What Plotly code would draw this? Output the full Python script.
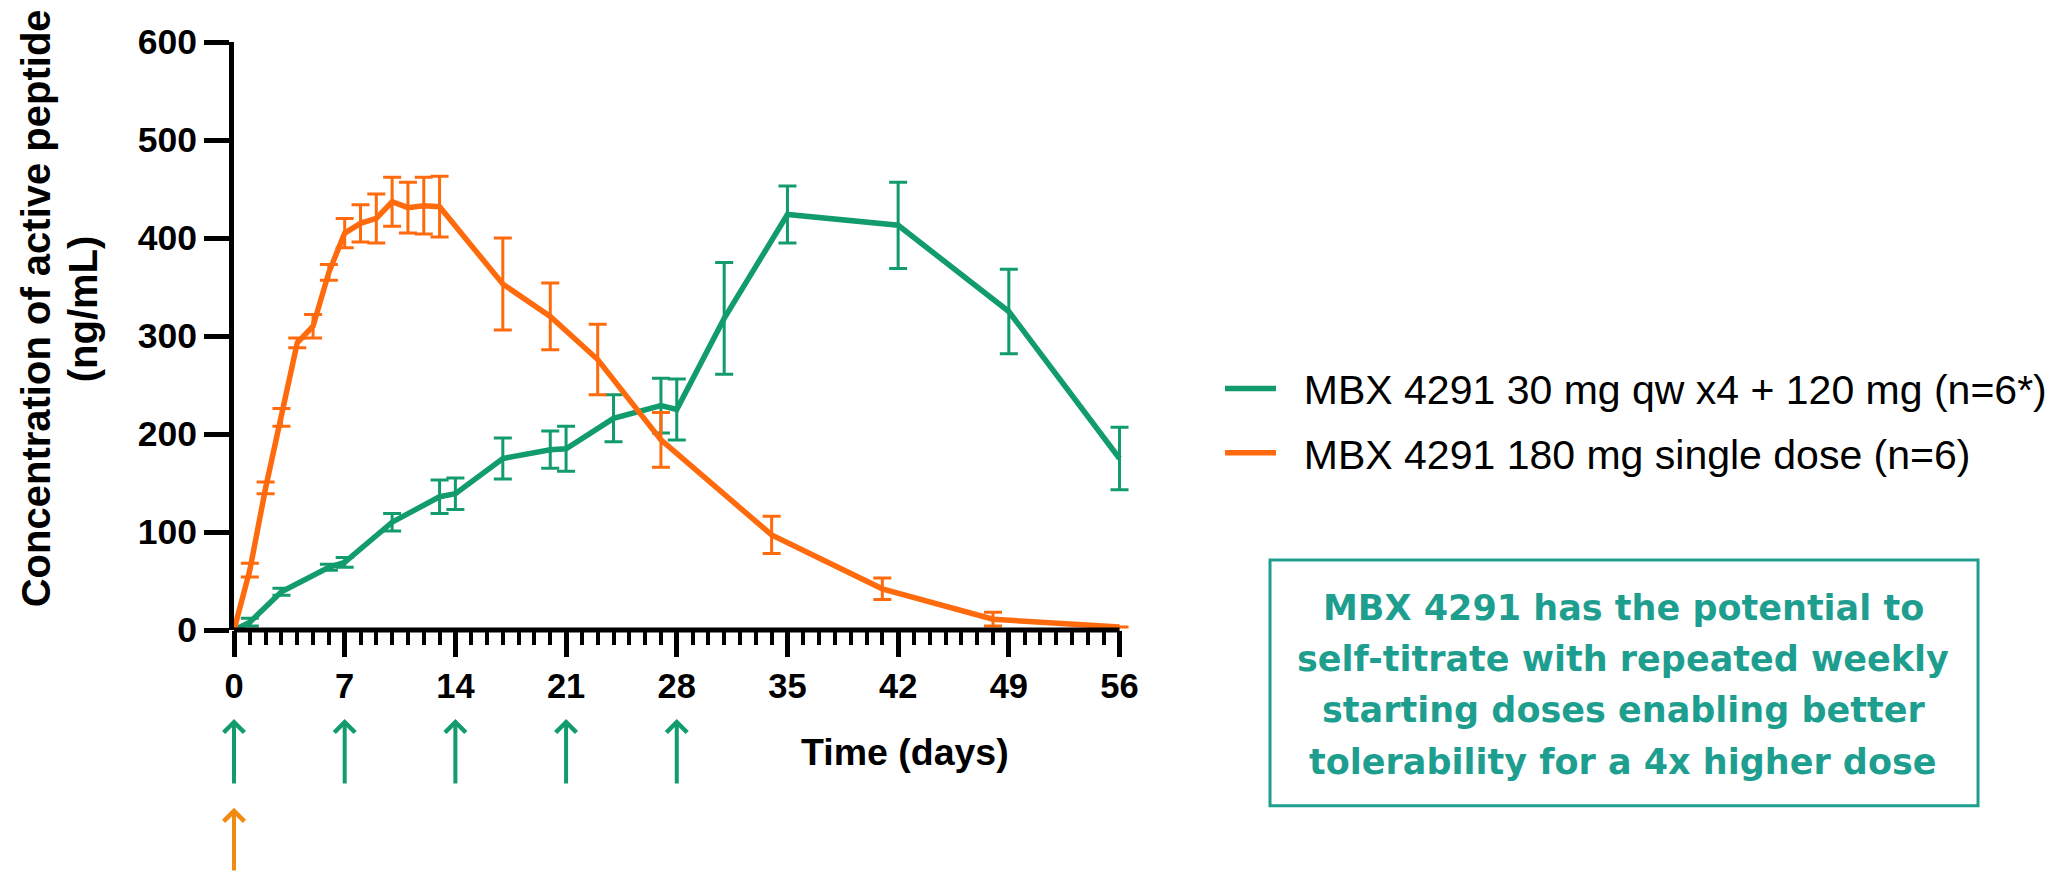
import plotly.graph_objects as go

# ---------------- data ----------------
green_name = "MBX 4291 30 mg qw x4 + 120 mg (n=6*)"
green_days = [0, 1, 3, 6, 7, 10, 13, 14, 17, 20, 21, 24, 27, 28, 31, 35, 42, 49, 56]
green_mean = [0, 8, 39, 64, 69, 110, 136, 139, 175, 184, 185, 216, 229, 225, 318, 424, 413, 325, 175]
green_err = [0, 4, 3.5, 3, 5, 9, 17, 16, 21, 19, 23, 24, 28, 31, 57, 29, 44, 43, 32]

orange_name = "MBX 4291 180 mg single dose (n=6)"
orange_days = [0, 1, 2, 3, 4, 5, 6, 7, 8, 9, 10, 11, 12, 13, 17, 20, 23, 27, 34, 41, 48, 56]
orange_mean = [0, 61, 145, 217, 293, 310, 365, 405, 415, 420, 437, 431, 433, 432, 353, 320, 276, 194, 97, 42, 11, 3]
orange_err = [0, 7, 6, 9, 5, 12, 8, 15, 19, 25, 25, 26, 29, 31, 47, 34, 36, 28, 19, 11, 7, 0]

x_ticks = [0, 7, 14, 21, 28, 35, 42, 49, 56]
y_ticks = [0, 100, 200, 300, 400, 500, 600]
green_dose_days = [0, 7, 14, 21, 28]
orange_dose_days = [0]

y_title_lines = ["Concentration of active peptide", "(ng/mL)"]
x_title = "Time (days)"
box_lines = [
    "MBX 4291 has the potential to",
    "self-titrate with repeated weekly",
    "starting doses enabling better",
    "tolerability for a 4x higher dose",
]

GREEN = "#129B6B"
ORANGE = "#FF6A0D"
ARROW_ORANGE = "#F28A10"
TEAL = "#1E9E8F"
FONT = "Liberation Sans, Arial, sans-serif"
NBSP = "\u00a0"

# ---------------- layout geometry ----------------
W, H = 2067, 872
X_MAX = 56
X_PAD = 0.6                      # extra room so the last error-bar caps are not clipped
L, T, B = 234, 41.5, 242
PX_PER_DAY = (1119.5 - L) / X_MAX
R = W - L - PX_PER_DAY * (X_MAX + X_PAD)
PW = W - L - R
PH = H - T - B


def px2x(px):
    return (px - L) / PW


def py2y(py):
    return (H - B - py) / PH


fig = go.Figure()

fig.add_trace(go.Scatter(
    x=green_days, y=green_mean, mode="lines", name=NBSP * 2 + green_name,
    line=dict(color=GREEN, width=5.5),
    error_y=dict(type="data", array=green_err, color=GREEN, thickness=3, width=9),
    legendgroup="g", cliponaxis=False,
))
fig.add_trace(go.Scatter(
    x=orange_days, y=orange_mean, mode="lines", name=NBSP * 2 + orange_name,
    line=dict(color=ORANGE, width=5.5),
    error_y=dict(type="data", array=orange_err, color=ORANGE, thickness=3, width=9),
    legendgroup="o", cliponaxis=False,
))

annotations = []
# y-axis title (two centred lines)
for txt, cx in zip(y_title_lines, [36, 83]):
    annotations.append(dict(
        text="<b>" + txt + "</b>",
        xref="paper", yref="paper", x=px2x(cx), y=py2y(308),
        xanchor="center", yanchor="middle", textangle=-90, showarrow=False,
        font=dict(family=FONT, size=40, color="black"),
    ))
# x-axis title
annotations.append(dict(
    text="<b>" + x_title + "</b>",
    xref="paper", yref="paper", x=px2x(905), y=py2y(752),
    xanchor="center", yanchor="middle", showarrow=False,
    font=dict(family=FONT, size=37.5, color="black"),
))
# dosing arrows
for d in green_dose_days:
    annotations.append(dict(
        text="", xref="x", yref="paper", x=d, y=py2y(719),
        ax=0, ay=66, axref="pixel", ayref="pixel",
        showarrow=True, arrowhead=4, arrowsize=1, arrowwidth=4,
        arrowcolor=GREEN, standoff=0, startstandoff=0,
    ))
for d in orange_dose_days:
    annotations.append(dict(
        text="", xref="x", yref="paper", x=d, y=py2y(808),
        ax=0, ay=70, axref="pixel", ayref="pixel",
        showarrow=True, arrowhead=4, arrowsize=1, arrowwidth=4,
        arrowcolor=ARROW_ORANGE, standoff=0, startstandoff=0,
    ))
# box text
box_centers = [608, 659, 710.5, 762]
for txt, cy in zip(box_lines, box_centers):
    annotations.append(dict(
        text="<b>" + txt + "</b>", xref="paper", yref="paper",
        x=px2x(1623), y=py2y(cy), xanchor="center", yanchor="middle",
        showarrow=False,
        font=dict(family="DejaVu Sans, " + FONT, size=35, color=TEAL),
    ))

shapes = [
    # callout box
    dict(type="rect", xref="paper", yref="paper",
         x0=px2x(1270), x1=px2x(1978), y0=py2y(560), y1=py2y(806),
         line=dict(color=TEAL, width=3), fillcolor="white", layer="below"),
    # x-axis line, stopping exactly at the last day
    dict(type="line", xref="x", yref="paper",
         x0=-5 / PX_PER_DAY, x1=X_MAX, y0=0, y1=0,
         line=dict(color="black", width=5), layer="above"),
]

fig.update_layout(
    width=W, height=H,
    margin=dict(l=L, r=R, t=T, b=B, pad=0),
    paper_bgcolor="white", plot_bgcolor="white",
    font=dict(family=FONT, color="black"),
    showlegend=True,
    legend=dict(
        x=px2x(1220), y=py2y(355), xanchor="left", yanchor="top",
        font=dict(family=FONT, size=41, color="black"),
        bgcolor="rgba(0,0,0,0)", borderwidth=0,
        tracegroupgap=8, itemwidth=51, traceorder="grouped",
    ),
    annotations=annotations,
    shapes=shapes,
    xaxis=dict(
        range=[0, X_MAX + X_PAD], tickmode="array", tickvals=x_ticks,
        ticktext=[f"<b>{v}</b>" for v in x_ticks],
        ticks="outside", ticklen=26, tickwidth=5, tickcolor="black",
        showline=False,
        showgrid=False, zeroline=False,
        tickfont=dict(family=FONT, size=34.5, color="black"),
        minor=dict(tickmode="array", tickvals=list(range(0, X_MAX + 1)),
                   ticks="outside", ticklen=14, tickwidth=4,
                   tickcolor="black", showgrid=False),
        fixedrange=True,
    ),
    yaxis=dict(
        range=[0, 600], tickmode="array", tickvals=y_ticks,
        ticktext=[f"<b>{v}</b>" for v in y_ticks],
        ticks="outside", ticklen=25, tickwidth=5, tickcolor="black",
        showline=True, linewidth=5, linecolor="black",
        showgrid=False, zeroline=False,
        tickfont=dict(family=FONT, size=35.5, color="black"),
        fixedrange=True,
    ),
)

fig.write_html("out.html")
